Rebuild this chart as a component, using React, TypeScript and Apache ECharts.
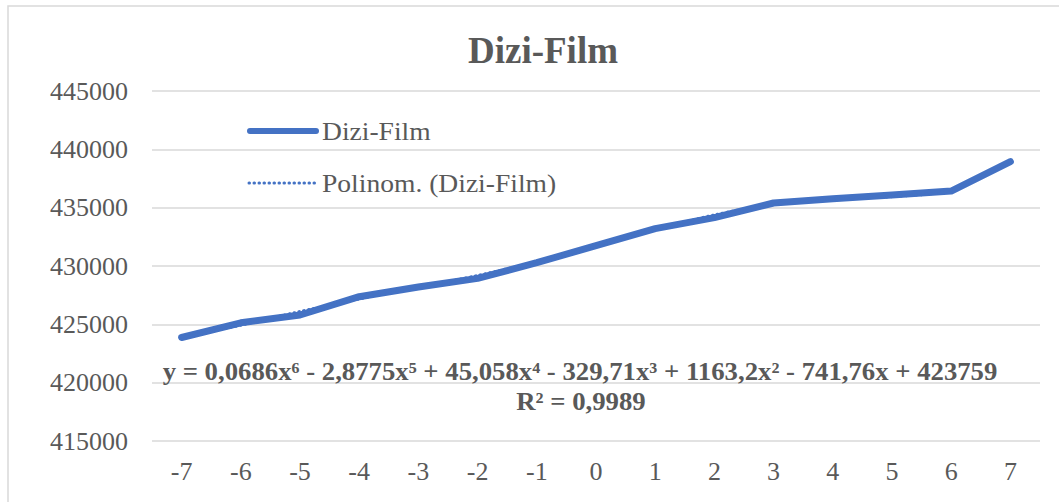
import React, { useEffect, useRef } from "react";
import * as echarts from "echarts";

const categories = ["-7", "-6", "-5", "-4", "-3", "-2", "-1", "0", "1", "2", "3", "4", "5", "6", "7"];
const diziFilm = [423870, 425130, 425800, 427370, 428200, 428940, 430280, 431750, 433200, 434150, 435400, 435770, 436080, 436420, 438940];
const trendValues = [423893, 424924, 426101, 427171, 428157, 429187, 430366, 431709, 433113, 434381, 435302, 435767, 435949, 436523, 438938];
const yMin = 415000;
const yMax = 445000;
const yInterval = 5000;
const titleText = "Dizi-Film";
const seriesName = "Dizi-Film";
const trendName = "Polinom. (Dizi-Film)";
const equationText = "y = 0,0686x⁶ - 2,8775x⁵ + 45,058x⁴ - 329,71x³ + 1163,2x² - 741,76x + 423759";
const r2Text = "R² = 0,9989";

const FONT = "'Times New Roman', 'Liberation Serif', serif";
const GREY = "#595959";
const BLUE = "#4472C4";

export default function App() {
  const ref = useRef<HTMLDivElement>(null);
  useEffect(() => {
    if (!ref.current) return;
    const chart = echarts.init(ref.current, undefined, { renderer: "svg" });
    chart.setOption({
      animation: false,
      backgroundColor: "#ffffff",
      title: {
        text: titleText,
        left: 538,
        top: 27,
        textAlign: "center",
        textStyle: { fontFamily: FONT, fontSize: 37, fontWeight: "bold", color: GREY },
      },
      legend: { show: false },
      grid: { left: 152, right: 19, top: 91, bottom: 61, containLabel: false },
      xAxis: {
        type: "category",
        data: categories,
        boundaryGap: true,
        axisLine: { show: false },
        axisTick: { show: false },
        axisLabel: { fontFamily: FONT, fontSize: 26, color: GREY, margin: 17 },
      },
      yAxis: {
        type: "value",
        min: yMin,
        max: yMax,
        interval: yInterval,
        axisLine: { show: false },
        axisTick: { show: false },
        axisLabel: {
          fontFamily: FONT,
          fontSize: 26,
          color: GREY,
          margin: 24,
          formatter: (v: number) => String(v),
        },
        splitLine: { lineStyle: { color: "#d9d9d9", width: 1.5 } },
      },
      series: [
        {
          name: seriesName,
          type: "line",
          data: diziFilm,
          symbol: "none",
          lineStyle: { color: BLUE, width: 7, cap: "round", join: "round" },
          itemStyle: { color: BLUE },
          z: 2,
        },
        {
          name: trendName,
          type: "line",
          data: trendValues,
          symbol: "none",
          smooth: 0.3,
          lineStyle: { color: BLUE, width: 3, type: [0.5, 4.5], cap: "round" },
          itemStyle: { color: BLUE },
          z: 3,
        },
      ],
      graphic: [
        {
          type: "rect",
          shape: { x: 8, y: 6, width: 1100, height: 600 },
          style: { fill: "none", stroke: "#d9d9d9", lineWidth: 1.5 },
          silent: true,
        },
        {
          type: "line",
          shape: { x1: 250, y1: 131, x2: 316, y2: 131 },
          style: { stroke: BLUE, lineWidth: 6, lineCap: "round" },
        },
        {
          type: "text",
          x: 322,
          y: 131,
          scaleX: 1.06,
          style: {
            text: seriesName,
            fontFamily: FONT,
            fontSize: 26,
            fill: GREY,
            align: "left",
            verticalAlign: "middle",
          },
        },
        {
          type: "line",
          shape: { x1: 249, y1: 183, x2: 317, y2: 183 },
          style: { stroke: BLUE, lineWidth: 3, lineDash: [0.5, 4.5], lineCap: "round" },
        },
        {
          type: "text",
          x: 322,
          y: 183,
          scaleX: 1.06,
          style: {
            text: trendName,
            fontFamily: FONT,
            fontSize: 26,
            fill: GREY,
            align: "left",
            verticalAlign: "middle",
          },
        },
        {
          type: "text",
          x: 580,
          y: 372,
          scaleX: 1.07,
          style: {
            text: equationText,
            fontFamily: FONT,
            fontSize: 25,
            fontWeight: "bold",
            fill: GREY,
            align: "center",
            verticalAlign: "middle",
          },
          z: 10,
        },
        {
          type: "text",
          x: 581,
          y: 402,
          scaleX: 1.07,
          style: {
            text: r2Text,
            fontFamily: FONT,
            fontSize: 25,
            fontWeight: "bold",
            fill: GREY,
            align: "center",
            verticalAlign: "middle",
          },
          z: 10,
        },
      ],
    });
    return () => chart.dispose();
  }, []);
  return (
    <div
      ref={ref}
      style={{ position: "absolute", left: 0, top: 0, width: 1059, height: 502 }}
    />
  );
}
